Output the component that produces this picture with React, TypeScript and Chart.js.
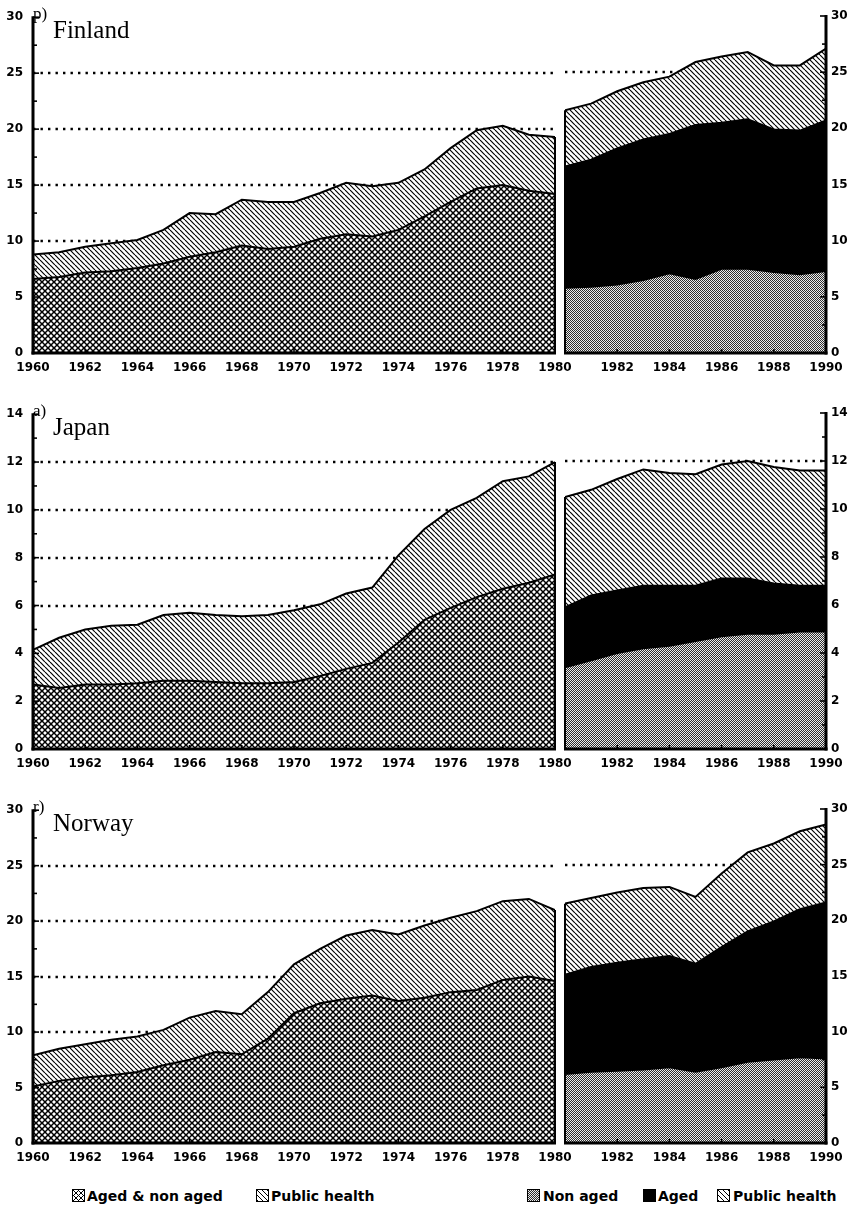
import React, { useEffect, useRef } from 'react';
import { Chart, registerables } from 'chart.js';

Chart.register(...registerables);

// ---------- categories ----------
const leftYears = [1960, 1961, 1962, 1963, 1964, 1965, 1966, 1967, 1968, 1969, 1970, 1971, 1972, 1973, 1974, 1975, 1976, 1977, 1978, 1979, 1980];
const rightYears = [1980, 1981, 1982, 1983, 1984, 1985, 1986, 1987, 1988, 1989, 1990];

// ---------- Finland ----------
const finlandAgedNonAged = [6.6, 6.8, 7.2, 7.3, 7.6, 8.0, 8.6, 9.0, 9.6, 9.3, 9.5, 10.2, 10.6, 10.4, 11.0, 12.2, 13.5, 14.7, 15.0, 14.5, 14.2];
const finlandPublicHealthEarly = [2.2, 2.2, 2.3, 2.5, 2.5, 3.0, 3.9, 3.4, 4.1, 4.2, 4.0, 4.1, 4.6, 4.5, 4.2, 4.2, 4.8, 5.2, 5.3, 5.0, 5.1];
const finlandNonAged = [5.8, 5.9, 6.1, 6.5, 7.1, 6.6, 7.5, 7.5, 7.2, 7.0, 7.3];
const finlandAged = [10.8, 11.3, 12.1, 12.5, 12.4, 13.7, 13.0, 13.3, 12.7, 12.8, 13.4];
const finlandPublicHealthLate = [5.0, 5.0, 5.1, 5.1, 5.1, 5.6, 5.9, 6.0, 5.7, 5.8, 6.4];

// ---------- Japan ----------
const japanAgedNonAged = [2.7, 2.55, 2.7, 2.7, 2.75, 2.85, 2.85, 2.8, 2.75, 2.75, 2.8, 3.05, 3.35, 3.6, 4.45, 5.4, 5.9, 6.35, 6.7, 6.95, 7.3];
const japanPublicHealthEarly = [1.45, 2.1, 2.3, 2.45, 2.45, 2.75, 2.85, 2.8, 2.8, 2.85, 3.0, 3.0, 3.15, 3.15, 3.65, 3.8, 4.1, 4.15, 4.5, 4.45, 4.7];
const japanNonAged = [3.4, 3.7, 4.0, 4.2, 4.3, 4.5, 4.7, 4.8, 4.8, 4.9, 4.9];
const japanAged = [2.5, 2.7, 2.6, 2.6, 2.5, 2.3, 2.4, 2.3, 2.1, 1.9, 1.9];
const japanPublicHealthLate = [4.6, 4.4, 4.65, 4.85, 4.7, 4.65, 4.75, 4.9, 4.85, 4.8, 4.8];

// ---------- Norway ----------
const norwayAgedNonAged = [5.1, 5.6, 5.9, 6.1, 6.4, 7.0, 7.5, 8.2, 8.0, 9.4, 11.7, 12.6, 13.0, 13.3, 12.8, 13.1, 13.6, 13.8, 14.7, 15.0, 14.6];
const norwayPublicHealthEarly = [2.8, 2.9, 3.0, 3.2, 3.2, 3.2, 3.8, 3.7, 3.6, 4.2, 4.4, 4.9, 5.7, 5.9, 6.0, 6.5, 6.7, 7.1, 7.1, 7.0, 6.4];
const norwayNonAged = [6.2, 6.4, 6.5, 6.6, 6.8, 6.4, 6.8, 7.3, 7.5, 7.7, 7.6];
const norwayAged = [8.9, 9.4, 9.7, 9.9, 10.0, 9.7, 10.8, 11.7, 12.4, 13.3, 14.0];
const norwayPublicHealthLate = [6.4, 6.2, 6.3, 6.4, 6.2, 6.0, 6.6, 7.1, 7.0, 7.0, 7.0];

// ---------- label texts ----------
const leftLegendLabels = ['Aged & non aged', 'Public health'];
const rightLegendLabels = ['Non aged', 'Aged', 'Public health'];

// ---------- patterns ----------
function tile(size: number, draw: (c: CanvasRenderingContext2D, s: number) => void) {
  const cv = document.createElement('canvas');
  cv.width = size;
  cv.height = size;
  const c = cv.getContext('2d')!;
  draw(c, size);
  return c.createPattern(cv, 'repeat')!;
}

let patternCache: any = null;
function patterns() {
  if (patternCache) return patternCache;
  const cross = tile(6, (c, s) => {
    c.fillStyle = '#fff';
    c.fillRect(0, 0, s, s);
    c.strokeStyle = '#000';
    c.lineWidth = 1.5;
    for (const k of [-1, 0, 1]) {
      c.beginPath(); c.moveTo(k * s, 0); c.lineTo(k * s + s, s); c.stroke();
      c.beginPath(); c.moveTo(k * s, s); c.lineTo(k * s + s, 0); c.stroke();
    }
  });
  const hatch = tile(5, (c, s) => {
    c.fillStyle = '#fff';
    c.fillRect(0, 0, s, s);
    c.strokeStyle = '#000';
    c.lineWidth = 1.15;
    for (const k of [-1, 0, 1]) {
      c.beginPath(); c.moveTo(k * s, 0); c.lineTo(k * s + s, s); c.stroke();
    }
  });
  const stipple = tile(2, (c) => {
    c.fillStyle = '#ececec';
    c.fillRect(0, 0, 2, 2);
    c.fillStyle = '#2e2e2e';
    c.fillRect(0, 0, 1, 1);
    c.fillRect(1, 1, 1, 1);
  });
  patternCache = { cross, hatch, stipple };
  return patternCache;
}

// ---------- frame plugin ----------
const framePlugin = {
  id: 'frame',
  beforeDatasetsDraw(chart: any) {
    const { ctx, chartArea: a } = chart;
    const y = chart.scales.y;
    ctx.save();
    ctx.strokeStyle = '#000';
    ctx.lineWidth = 2.4;
    ctx.setLineDash([2.4, 5.1]);
    y.ticks.forEach((t: any) => {
      if (t.value <= y.min || t.value >= y.max) return;
      const py = Math.round(y.getPixelForValue(t.value));
      ctx.beginPath();
      ctx.moveTo(a.left, py);
      ctx.lineTo(a.right, py);
      ctx.stroke();
    });
    ctx.restore();
  },
  afterDatasetsDraw(chart: any, _args: any, opts: any) {
    const { ctx, chartArea: a } = chart;
    const x = chart.scales.x;
    const y = chart.scales.y;
    const side = opts.side;
    ctx.save();
    ctx.fillStyle = '#000';
    ctx.strokeStyle = '#000';
    ctx.setLineDash([]);

    if (opts.title) {
      ctx.font = '25px "Liberation Serif"';
      ctx.textBaseline = 'alphabetic';
      ctx.textAlign = 'left';
      ctx.fillText(opts.title, 53, a.top + 21);
      ctx.font = '17px "Liberation Serif"';
      ctx.fillText(opts.note, 33, a.top + 2);
    }

    // outline edge of the stacked area at the inner side
    const n = chart.data.datasets.length;
    const pts = chart.getDatasetMeta(n - 1).data;
    const edge = side === 'left' ? pts[pts.length - 1] : pts[0];
    ctx.lineWidth = 2;
    ctx.beginPath();
    ctx.moveTo(edge.x, a.bottom);
    ctx.lineTo(edge.x, edge.y);
    ctx.stroke();

    // axis line
    const ax = side === 'left' ? a.left : a.right;
    ctx.lineWidth = 3;
    ctx.beginPath();
    ctx.moveTo(ax, a.top - 1);
    ctx.lineTo(ax, a.bottom + 1.5);
    ctx.stroke();
    // bottom line
    ctx.beginPath();
    ctx.moveTo(a.left - (side === 'left' ? 1.5 : 1), a.bottom);
    ctx.lineTo(a.right + (side === 'right' ? 1.5 : 1), a.bottom);
    ctx.stroke();

    // y ticks, inward
    const dir = side === 'left' ? 1 : -1;
    const step = y.options.ticks.stepSize;
    ctx.lineWidth = 1.6;
    y.ticks.forEach((t: any) => {
      const py = y.getPixelForValue(t.value);
      ctx.beginPath();
      ctx.moveTo(ax, py);
      ctx.lineTo(ax + dir * 6, py);
      ctx.stroke();
      const mv = t.value + step / 2;
      if (mv < y.max) {
        const pm = y.getPixelForValue(mv);
        ctx.beginPath();
        ctx.moveTo(ax, pm);
        ctx.lineTo(ax + dir * 4, pm);
        ctx.stroke();
      }
    });
    // x ticks, upward
    x.ticks.forEach((t: any) => {
      const px = x.getPixelForValue(t.value);
      ctx.beginPath();
      ctx.moveTo(px, a.bottom);
      ctx.lineTo(px, a.bottom - 4);
      ctx.stroke();
    });
    ctx.restore();
  },
};

const tickFont = { family: '"DejaVu Sans"', size: 12, weight: 'bold' as const };

function xy(years: number[], vals: number[]) {
  return years.map((yr, i) => ({ x: yr, y: vals[i] }));
}

function line(label: string, data: any, bg: any, fill: any) {
  return {
    label,
    data,
    backgroundColor: bg,
    fill,
    borderColor: '#000',
    borderWidth: 2,
    pointRadius: 0,
    tension: 0,
  };
}

type PanelProps = {
  top: number;
  bottom: number;
  max: number;
  step: number;
  title: string;
  note: string;
  agedNonAged: number[];
  publicEarly: number[];
  nonAged: number[];
  aged: number[];
  publicLate: number[];
};

const PAD_TOP = 16;
const X_AXIS_H = 30;

function Panel(p: PanelProps) {
  const leftRef = useRef<HTMLCanvasElement>(null);
  const rightRef = useRef<HTMLCanvasElement>(null);
  const canvasTop = p.top - PAD_TOP;
  const height = p.bottom - p.top + PAD_TOP + X_AXIS_H;

  useEffect(() => {
    const pt = patterns();
    const yAxis = (position: 'left' | 'right', width: number, padding: number) => ({
      type: 'linear' as const,
      position,
      stacked: true,
      min: 0,
      max: p.max,
      grid: { display: false, drawTicks: false },
      border: { display: false },
      ticks: { stepSize: p.step, font: tickFont, color: '#000', padding },
      afterFit: (s: any) => { s.width = width; },
    });
    const xAxis = (min: number, max: number, skip: number | null) => ({
      type: 'linear' as const,
      min,
      max,
      grid: { display: false, drawTicks: false },
      border: { display: false },
      ticks: {
        stepSize: 2,
        autoSkip: false,
        maxRotation: 0,
        font: tickFont,
        color: '#000',
        padding: 8,
        callback: (v: any) => (v === skip ? '' : String(v)),
      },
      afterFit: (s: any) => { s.height = X_AXIS_H; },
    });

    const left = new Chart(leftRef.current!, {
      type: 'line',
      data: {
        datasets: [
          line(leftLegendLabels[0], xy(leftYears, p.agedNonAged), pt.cross, 'origin'),
          line(leftLegendLabels[1], xy(leftYears, p.publicEarly), pt.hatch, '-1'),
        ],
      },
      options: {
        responsive: false,
        animation: false,
        events: [],
        layout: { padding: { top: PAD_TOP, right: 45, left: 0, bottom: 0 } },
        plugins: {
          legend: { display: false },
          tooltip: { enabled: false },
          frame: { side: 'left', title: p.title, note: p.note },
        } as any,
        scales: {
          x: xAxis(1960, 1980, null),
          y: yAxis('left', 33, 10),
        } as any,
      },
      plugins: [framePlugin],
    });

    const right = new Chart(rightRef.current!, {
      type: 'line',
      data: {
        datasets: [
          line(rightLegendLabels[0], xy(rightYears, p.nonAged), pt.stipple, 'origin'),
          line(rightLegendLabels[1], xy(rightYears, p.aged), '#000', '-1'),
          line(rightLegendLabels[2], xy(rightYears, p.publicLate), pt.hatch, '-1'),
        ],
      },
      options: {
        responsive: false,
        animation: false,
        events: [],
        layout: { padding: { top: PAD_TOP, right: 0, left: 45, bottom: 0 } },
        plugins: {
          legend: { display: false },
          tooltip: { enabled: false },
          frame: { side: 'right' },
        } as any,
        scales: {
          x: xAxis(1980, 1990, 1980),
          y: yAxis('right', 29, 5),
        } as any,
      },
      plugins: [framePlugin],
    });

    return () => {
      left.destroy();
      right.destroy();
    };
  }, []);

  return (
    <>
      <canvas
        ref={leftRef}
        width={600}
        height={height}
        style={{ position: 'absolute', left: 0, top: canvasTop, width: 600, height }}
      />
      <canvas
        ref={rightRef}
        width={335}
        height={height}
        style={{ position: 'absolute', left: 520, top: canvasTop, width: 335, height }}
      />
    </>
  );
}

const boxBase: React.CSSProperties = {
  position: 'absolute',
  top: 1189,
  width: 13,
  height: 13,
  boxSizing: 'border-box',
  border: '1.5px solid #000',
};
const textBase: React.CSSProperties = {
  position: 'absolute',
  top: 1188.5,
  font: 'bold 14px "DejaVu Sans"',
  lineHeight: '14px',
  color: '#000',
  whiteSpace: 'nowrap',
};

const crossBg =
  'repeating-linear-gradient(45deg, #000 0 1.2px, transparent 1.2px 3.6px), repeating-linear-gradient(-45deg, #000 0 1.2px, transparent 1.2px 3.6px), #fff';
const hatchBg = 'repeating-linear-gradient(45deg, #000 0 1px, #fff 1px 3.6px)';
const stippleBg = 'repeating-conic-gradient(#2e2e2e 0 25%, #ececec 0 50%) 0 0 / 2px 2px';

function Legend() {
  const items = [
    { box: 72, text: 87, bg: crossBg, label: leftLegendLabels[0] },
    { box: 256, text: 271, bg: hatchBg, label: leftLegendLabels[1] },
    { box: 527, text: 543, bg: stippleBg, label: rightLegendLabels[0] },
    { box: 643, text: 658, bg: '#000', label: rightLegendLabels[1] },
    { box: 717, text: 733, bg: hatchBg, label: rightLegendLabels[2] },
  ];
  return (
    <>
      {items.map((it, i) => (
        <React.Fragment key={i}>
          <div style={{ ...boxBase, left: it.box, background: it.bg }} />
          <div style={{ ...textBase, left: it.text }}>{it.label}</div>
        </React.Fragment>
      ))}
    </>
  );
}

export default function App() {
  return (
    <div
      style={{
        position: 'absolute',
        left: 0,
        top: 0,
        width: 855,
        height: 1211,
        background: '#fff',
        overflow: 'hidden',
      }}
    >
      <Panel
        top={16}
        bottom={353}
        max={30}
        step={5}
        title="Finland"
        note="p)"
        agedNonAged={finlandAgedNonAged}
        publicEarly={finlandPublicHealthEarly}
        nonAged={finlandNonAged}
        aged={finlandAged}
        publicLate={finlandPublicHealthLate}
      />
      <Panel
        top={413}
        bottom={749}
        max={14}
        step={2}
        title="Japan"
        note="a)"
        agedNonAged={japanAgedNonAged}
        publicEarly={japanPublicHealthEarly}
        nonAged={japanNonAged}
        aged={japanAged}
        publicLate={japanPublicHealthLate}
      />
      <Panel
        top={809}
        bottom={1143}
        max={30}
        step={5}
        title="Norway"
        note="r)"
        agedNonAged={norwayAgedNonAged}
        publicEarly={norwayPublicHealthEarly}
        nonAged={norwayNonAged}
        aged={norwayAged}
        publicLate={norwayPublicHealthLate}
      />
      <Legend />
    </div>
  );
}
